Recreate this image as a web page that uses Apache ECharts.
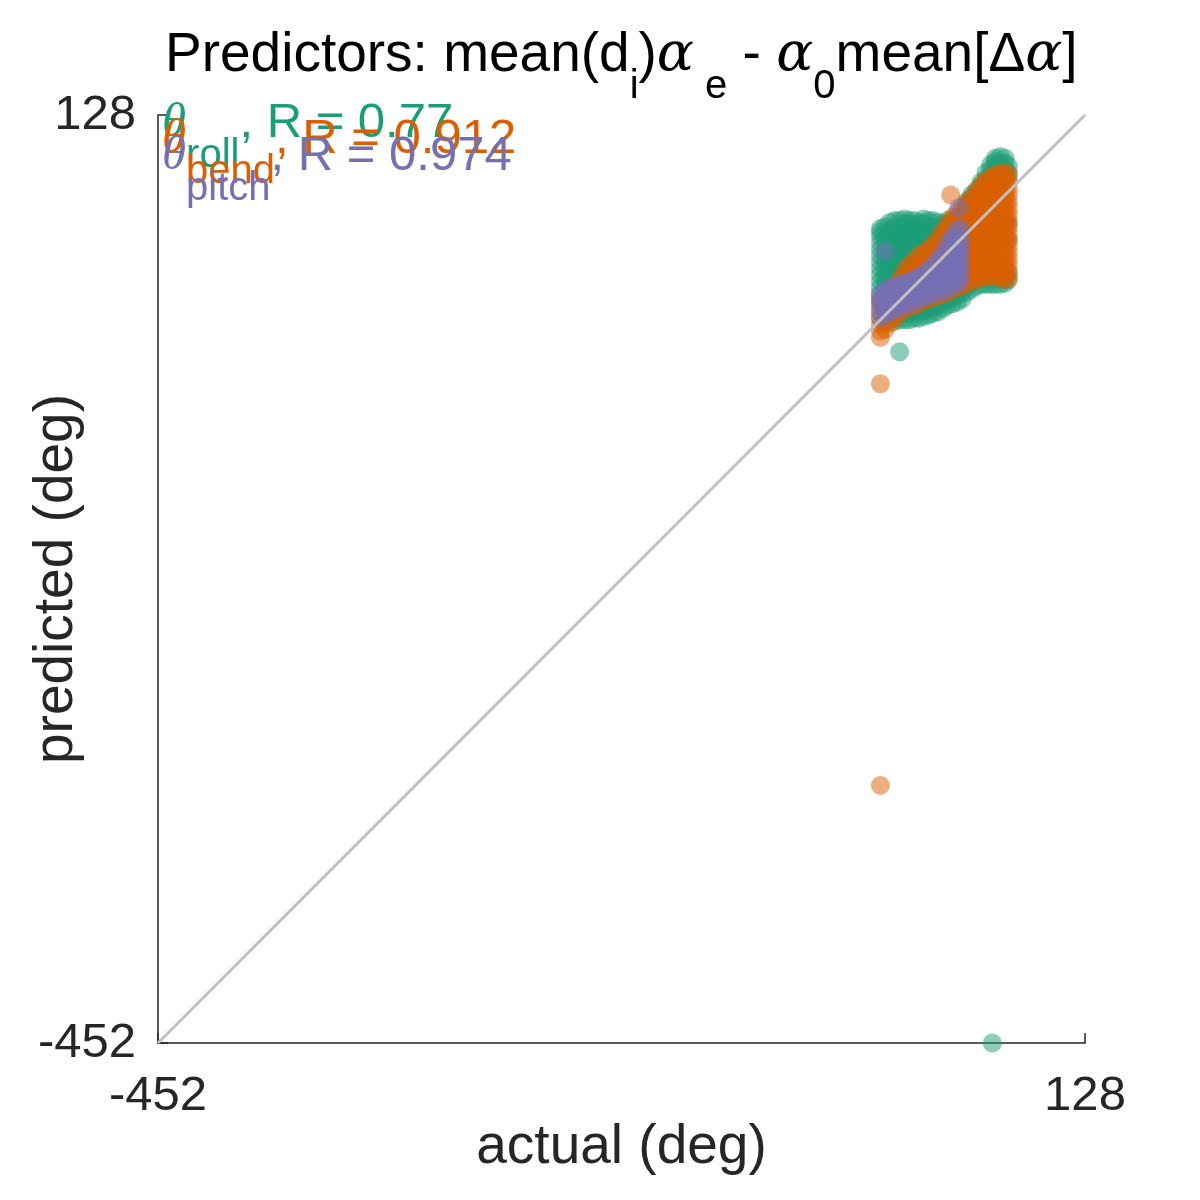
<!DOCTYPE html>
<html>
<head>
<meta charset="utf-8">
<script src="https://cdn.jsdelivr.net/npm/echarts@6/dist/echarts.min.js"></script>
<style>html,body{margin:0;padding:0;background:#fff}#c{width:1200px;height:1200px}</style>
</head>
<body>
<div id="c"></div>
<script>
// Axis range and tick labels
const axisTicks = [-452, 128];
const diagonal = [[-452, -452], [128, 128]];

// theta_roll (green): columns of [actual, [predicted values...]]
const rollCols = [
  [0, [12,16,20,24,28,32,36,40,44,48,52,55,57]],
  [3, [14,18,22,26,30,34,38,42,46,50,54,58]],
  [6, [16,20,24,28,32,36,40,44,48,52,56,61]],
  [9, [-1,3,18,22,26,30,34,38,42,46,50,54,58,62]],
  [12, [0,4,22,26,30,34,38,42,46,50,54,58,62]],
  [15, [0,4,24,28,32,36,40,44,48,52,56,60,63]],
  [18, [0,4,28,32,36,40,44,48,52,56,60,62]],
  [21, [1,5,30,34,38,42,46,50,54,58,62]],
  [24, [1,5,9,34,38,42,46,50,54,58,61]],
  [27, [2,6,10,36,40,44,48,52,56,60,63]],
  [30, [3,7,11,38,42,46,50,54,58,62]],
  [33, [4,8,12,42,46,50,54,58,62]],
  [36, [5,9,13,46,50,54,58,61]],
  [39, [7,11,15,50,54,58,60]],
  [42, [9,13,17,54,58,62]],
  [45, [10,14,18,58,62]],
  [48, [11,15,19,60,63]],
  [51, [13,17,21,64,68]],
  [54, [17,21,68,72,74]],
  [57, [19,23,72,76,78]],
  [60, [21,25,76,79,81]],
  [63, [22,26,80,84,86]],
  [66, [22,26,84,88,92]],
  [69, [22,26,86,90,94,97]],
  [72, [22,26,88,92,96,99,101]],
  [75, [22,26,90,94,98,102]],
  [78, [23,27,90,94,98,101]],
  [80, [25,29,50,60,88,92,96]],
  [12, [-20]],
  [70, [-452]]
];

// theta_bend (orange)
const bendCols = [
  [0, [-11,-7,-3,1,5,9,12]],
  [3, [-6,-2,2,6,10,15]],
  [6, [-2,2,6,10,14,18]],
  [9, [1,5,9,13,17,21]],
  [12, [4,8,12,16,20,25]],
  [15, [7,11,15,19,23,27,31]],
  [18, [8,12,16,20,24,28,34]],
  [21, [9,13,17,21,25,29,33,37]],
  [24, [10,14,18,22,26,30,34,40]],
  [27, [12,16,20,24,28,32,36,42]],
  [30, [13,17,21,25,29,33,37,41,44]],
  [33, [14,18,22,26,30,34,38,42,47]],
  [36, [15,19,23,27,31,35,39,43,47,51]],
  [39, [16,20,24,28,32,36,40,44,48,52,55]],
  [42, [17,21,25,29,33,37,41,45,49,53,57,60]],
  [45, [19,23,27,31,35,39,43,47,51,55,59,64]],
  [48, [20,24,28,32,36,40,44,48,52,56,60,64,67]],
  [51, [21,25,29,33,37,41,45,49,53,57,61,65,70]],
  [54, [23,27,31,35,39,43,47,51,55,59,63,67,70,73]],
  [57, [24,28,32,36,40,44,48,52,56,60,64,68,72,76]],
  [60, [25,29,33,37,41,45,49,53,57,61,65,69,73,77,80]],
  [63, [26,30,34,38,42,46,50,54,58,62,66,70,74,78,82,84]],
  [66, [27,31,35,39,43,47,51,55,59,63,67,71,75,79,83,87]],
  [69, [27,31,35,39,43,47,51,55,59,63,67,71,75,79,83,87,89]],
  [72, [27,31,35,39,43,47,51,55,59,63,67,71,75,79,83,87,91]],
  [75, [26,30,34,38,42,46,50,54,58,62,66,70,74,78,82,86,90,92]],
  [78, [25,29,33,37,41,45,49,53,57,61,65,69,73,77,81,85,89,92]],
  [80, [26,30,34,38,42,46,50,54,58,62,66,70,74,78,82,86,91]],
  [0, [-40,-291]],
  [44, [78]]
];

// theta_pitch (purple)
const pitchCols = [
  [0, [1,5,9,13,16]],
  [3, [3,7,11,15,19]],
  [6, [5,9,13,17,20]],
  [9, [6,10,14,18,21]],
  [12, [8,12,16,20,22]],
  [15, [9,13,17,21,23]],
  [18, [10,14,18,22,24]],
  [21, [11,15,19,23,25]],
  [24, [13,17,21,25,27]],
  [27, [14,18,22,26,29]],
  [30, [15,19,23,27,31]],
  [33, [16,20,24,28,32,34]],
  [36, [17,21,25,29,33,38]],
  [39, [18,22,26,30,34,38,42]],
  [42, [19,23,27,31,35,39,43,48]],
  [45, [21,25,29,33,37,41,45,49,52]],
  [48, [23,27,31,35,39,43,47,51,56]],
  [50, [24,28,32,36,40,44,48,52,57]],
  [3, [43]],
  [49, [70]]
];

const seriesNames = ['roll', 'bend', 'pitch'];
const seriesR = ['0.77', '0.912', '0.974'];
const seriesColors = ['#1b9e77', '#d95f02', '#7570b3'];

function toPairs(cols) {
  const out = [];
  cols.forEach(function (c) { c[1].forEach(function (y) { out.push([c[0], y]); }); });
  return out;
}

const chart = echarts.init(document.getElementById('c'), null, {renderer: 'canvas'});
const SANS = 'Liberation Sans';
const SERIF = 'Liberation Serif';
const GREEK = 'DejaVu Serif';
const AX = '#262626';

function legendText(i, top) {
  const c = seriesColors[i];
  return {
    type: 'text', left: 162, top: top, z: 100,
    style: {
      text: '{t|\u03b8}{s|' + seriesNames[i] + '}{m|, R = ' + seriesR[i] + '}',
      rich: {
        t: {fontFamily: SERIF, fontStyle: 'italic', fontSize: 49, lineHeight: 104, fill: c, color: c},
        s: {fontFamily: SANS, fontSize: 40, lineHeight: 40, verticalAlign: 'bottom', fill: c, color: c},
        m: {fontFamily: SANS, fontSize: 49, lineHeight: 104, fill: c, color: c}
      }
    }
  };
}

const scatterBase = {
  type: 'scatter', symbol: 'circle', symbolSize: 19, clip: false,
  emphasis: {disabled: true}
};

const axisCommon = {
  type: 'value', min: axisTicks[0], max: axisTicks[1], interval: axisTicks[1] - axisTicks[0],
  axisLine: {show: true, onZero: false, lineStyle: {color: AX, width: 1.5}},
  axisTick: {show: true, inside: true, length: 10, lineStyle: {color: AX, width: 1.5}},
  splitLine: {show: false},
  nameLocation: 'middle', nameMoveOverlap: false,
  nameTextStyle: {fontSize: 55, color: AX, fontFamily: SANS}
};

chart.setOption({
  animation: false,
  backgroundColor: '#ffffff',
  grid: {left: 158, right: 115, top: 115, bottom: 157, containLabel: false, outerBoundsMode: 'none'},
  xAxis: Object.assign({}, axisCommon, {
    axisLabel: {fontSize: 49, color: AX, fontFamily: SANS, margin: 29, showMinLabel: true, showMaxLabel: true},
    name: 'actual (deg)', nameGap: 77
  }),
  yAxis: Object.assign({}, axisCommon, {
    axisLabel: {fontSize: 49, color: AX, fontFamily: SANS, margin: 22, showMinLabel: true, showMaxLabel: true},
    name: 'predicted (deg)', nameGap: 74
  }),
  graphic: [
    {
      type: 'text', left: 165, top: 28, z: 100,
      style: {
        text: '{m|Predictors: mean(d}{s|i}{m|)}{g|\u03b1}{s| e}{m| - }{g|\u03b1}{s|0}{m|mean[\u0394}{g|\u03b1}{m|]}',
        rich: {
          m: {fontFamily: SANS, fontSize: 55, lineHeight: 102, fill: '#000', color: '#000'},
          g: {fontFamily: GREEK, fontStyle: 'italic', fontSize: 55, lineHeight: 102, fill: '#000', color: '#000'},
          s: {fontFamily: SANS, fontSize: 40, lineHeight: 40, verticalAlign: 'bottom', fill: '#000', color: '#000'}
        }
      }
    },
    legendText(0, 99),
    legendText(1, 115),
    legendText(2, 132)
  ],
  series: [
    Object.assign({}, scatterBase, {name: 'roll', data: toPairs(rollCols), itemStyle: {color: seriesColors[0], opacity: 0.5}}),
    Object.assign({}, scatterBase, {name: 'bend', data: toPairs(bendCols), itemStyle: {color: seriesColors[1], opacity: 0.5}}),
    Object.assign({}, scatterBase, {name: 'pitch', data: toPairs(pitchCols), itemStyle: {color: seriesColors[2], opacity: 0.5}}),
    {type: 'line', data: diagonal, symbol: 'none', silent: true,
     lineStyle: {color: '#c0c0c0', width: 3}, z: 3}
  ]
});
</script>
</body>
</html>
